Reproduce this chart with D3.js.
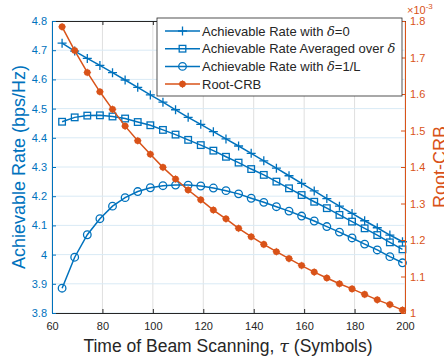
<!DOCTYPE html>
<html>
<head>
<meta charset="utf-8">
<script src="https://cdn.jsdelivr.net/npm/d3@7"></script>
<style>
body { margin: 0; background: #fff; }
svg { display: block; font-family: "Liberation Sans", Arial, sans-serif; }
</style>
</head>
<body>
<div id="chart"></div>
<script>
// beam scanning time (symbols)
const tau = [64, 69, 74, 79, 84, 89, 94, 99, 104, 109, 114, 119, 124, 129,
             134, 139, 144, 149, 154, 159, 164, 169, 174, 179, 184, 189, 194, 199];

// achievable rate (bps/Hz)
const rateDelta0 = [4.724, 4.697, 4.672, 4.648, 4.623, 4.598, 4.573, 4.547, 4.522, 4.496,
                    4.470, 4.446, 4.421, 4.396, 4.372, 4.347, 4.321, 4.296, 4.270, 4.244,
                    4.218, 4.192, 4.166, 4.141, 4.116, 4.092, 4.067, 4.044];
const rateAvg = [4.455, 4.470, 4.476, 4.477, 4.473, 4.466, 4.454, 4.443, 4.427, 4.411,
                 4.393, 4.375, 4.356, 4.335, 4.315, 4.293, 4.273, 4.250, 4.227, 4.204,
                 4.181, 4.159, 4.136, 4.113, 4.090, 4.067, 4.042, 4.018];
const rateDeltaL = [3.885, 3.991, 4.068, 4.123, 4.166, 4.195, 4.216, 4.229, 4.236, 4.238,
                    4.238, 4.235, 4.228, 4.219, 4.208, 4.193, 4.179, 4.164, 4.149, 4.132,
                    4.115, 4.096, 4.077, 4.057, 4.036, 4.016, 3.993, 3.972];
// root-CRB (x 1e-3)
const rootCRB = [1.784, 1.719, 1.659, 1.606, 1.558, 1.512, 1.472, 1.435, 1.399, 1.367,
                 1.337, 1.310, 1.282, 1.258, 1.232, 1.209, 1.188, 1.168, 1.149, 1.130,
                 1.112, 1.096, 1.080, 1.066, 1.051, 1.036, 1.023, 1.008];

const xTicks = [60, 80, 100, 120, 140, 160, 180, 200];
const yLeftTicks = [3.8, 3.9, 4, 4.1, 4.2, 4.3, 4.4, 4.5, 4.6, 4.7, 4.8];
const yRightTicks = [1, 1.1, 1.2, 1.3, 1.4, 1.5, 1.6, 1.7, 1.8];

const blue = "#0072BD", orange = "#D95319", dark = "#262626";
const width = 444, height = 364;
const pLeft = 52, pRight = 405, pTop = 21, pBottom = 313;

const svg = d3.select("#chart").append("svg")
    .attr("width", width)
    .attr("height", height);

const x = d3.scaleLinear().domain([60, 200]).range([pLeft, pRight]);
const yL = d3.scaleLinear().domain([3.8, 4.8]).range([pBottom, pTop]);
const yR = d3.scaleLinear().domain([1, 1.8]).range([pBottom, pTop]);

svg.append("rect").attr("x", pLeft).attr("y", pTop)
    .attr("width", pRight - pLeft).attr("height", pBottom - pTop).attr("fill", "#fff");

// grid
svg.append("g").selectAll("line").data(xTicks).join("line")
    .attr("x1", d => x(d)).attr("x2", d => x(d))
    .attr("y1", pTop).attr("y2", pBottom)
    .attr("stroke", "#dfdfdf").attr("stroke-width", 1);
svg.append("g").selectAll("line").data(yLeftTicks).join("line")
    .attr("x1", pLeft).attr("x2", pRight)
    .attr("y1", d => yL(d)).attr("y2", d => yL(d))
    .attr("stroke", "#d9eaf5").attr("stroke-width", 1);

// series
const series = [
    { vals: rateDelta0, y: yL, color: blue, marker: "plus" },
    { vals: rateAvg, y: yL, color: blue, marker: "square" },
    { vals: rateDeltaL, y: yL, color: blue, marker: "circle" },
    { vals: rootCRB, y: yR, color: orange, marker: "dot" }
];

function drawMarker(g, type, color) {
    if (type === "plus") {
        g.append("path").attr("d", "M-4.5,0H4.5M0,-4.5V4.5")
            .attr("stroke", color).attr("stroke-width", 1.3).attr("fill", "none");
    } else if (type === "square") {
        g.append("rect").attr("x", -3.3).attr("y", -3.3).attr("width", 6.6).attr("height", 6.6)
            .attr("stroke", color).attr("stroke-width", 1.3).attr("fill", "none");
    } else if (type === "circle") {
        g.append("circle").attr("r", 3.8)
            .attr("stroke", color).attr("stroke-width", 1.3).attr("fill", "none");
    } else {
        g.append("circle").attr("r", 3.3).attr("fill", color);
        g.append("path").attr("d", "M-3.8,0H3.8M0,-3.8V3.8")
            .attr("stroke", color).attr("stroke-width", 0.8).attr("fill", "none");
    }
}

series.forEach(s => {
    const line = d3.line().x((d, i) => x(tau[i])).y(d => s.y(d));
    svg.append("path").datum(s.vals)
        .attr("d", line)
        .attr("fill", "none")
        .attr("stroke", s.color)
        .attr("stroke-width", 1.5);
    svg.append("g").selectAll("g").data(s.vals).join("g")
        .attr("transform", (d, i) => `translate(${x(tau[i])},${s.y(d)})`)
        .each(function() { drawMarker(d3.select(this), s.marker, s.color); });
});

// axes
function styleAxis(g, color) {
    g.attr("font-family", null).attr("font-size", 11);
    g.select(".domain").attr("stroke", color).attr("stroke-width", 1);
    g.selectAll(".tick line").attr("stroke", color);
    g.selectAll(".tick text").attr("fill", color);
}
const fmt1 = d => String(+d.toFixed(1));

svg.append("g").attr("transform", `translate(0,${pTop})`)
    .call(d3.axisTop(x).tickValues(xTicks).tickSize(-4).tickSizeOuter(0).tickFormat(""))
    .call(g => styleAxis(g, dark));
svg.append("g").attr("transform", `translate(0,${pBottom})`)
    .call(d3.axisBottom(x).tickValues(xTicks).tickSize(-4).tickSizeOuter(0).tickPadding(9).tickFormat(d3.format("d")))
    .call(g => styleAxis(g, dark));
svg.append("g").attr("transform", `translate(${pLeft},0)`)
    .call(d3.axisLeft(yL).tickValues(yLeftTicks).tickSize(-4).tickSizeOuter(0).tickPadding(5).tickFormat(fmt1))
    .call(g => styleAxis(g, blue));
svg.append("g").attr("transform", `translate(${pRight},0)`)
    .call(d3.axisRight(yR).tickValues(yRightTicks).tickSize(-4).tickSizeOuter(0).tickPadding(5).tickFormat(fmt1))
    .call(g => styleAxis(g, orange));

// exponent
const ex = svg.append("text").attr("x", 407).attr("y", 14)
    .attr("font-size", 11).attr("fill", orange).text("×10");
ex.append("tspan").attr("dy", -5).attr("font-size", 8).text("-3");

// axis titles
const xt = svg.append("text").attr("x", 228).attr("y", 352)
    .attr("text-anchor", "middle").attr("font-size", 17.5).attr("fill", dark)
    .text("Time of Beam Scanning, ");
xt.append("tspan").attr("font-family", "DejaVu Serif").attr("font-style", "italic").text("τ");
xt.append("tspan").text(" (Symbols)");

svg.append("text").attr("transform", `translate(25,${(pTop + pBottom) / 2}) rotate(-90)`)
    .attr("text-anchor", "middle").attr("font-size", 18).attr("fill", blue)
    .text("Achievable Rate (bps/Hz)");
// cut off by the right edge, as in the original figure
svg.append("text").attr("transform", `translate(446,${(pTop + pBottom) / 2}) rotate(-90)`)
    .attr("text-anchor", "middle").attr("font-size", 18).attr("fill", orange)
    .text("Root-CRB");

// legend
const legendItems = [
    { parts: ["Achievable Rate with ", "δ", "=0"], marker: "plus", color: blue },
    { parts: ["Achievable Rate Averaged over ", "δ", ""], marker: "square", color: blue },
    { parts: ["Achievable Rate with ", "δ", "=1/L"], marker: "circle", color: blue },
    { parts: ["Root-CRB", "", ""], marker: "dot", color: orange }
];
const lg = svg.append("g");
lg.append("rect").attr("x", 157).attr("y", 18).attr("width", 245).attr("height", 78)
    .attr("fill", "#fff").attr("stroke", dark).attr("stroke-width", 0.8);
legendItems.forEach((it, i) => {
    const cy = 31 + i * 17.7;
    lg.append("line").attr("x1", 165).attr("x2", 200).attr("y1", cy).attr("y2", cy)
        .attr("stroke", it.color).attr("stroke-width", 1.5);
    drawMarker(lg.append("g").attr("transform", `translate(182.5,${cy})`), it.marker, it.color);
    const t = lg.append("text").attr("x", 202).attr("y", cy + 4.6)
        .attr("font-size", 13).attr("fill", dark).text(it.parts[0]);
    if (it.parts[1]) t.append("tspan").attr("font-family", "DejaVu Serif").attr("font-style", "italic").text(it.parts[1]);
    if (it.parts[2]) t.append("tspan").text(it.parts[2]);
});
</script>
</body>
</html>
